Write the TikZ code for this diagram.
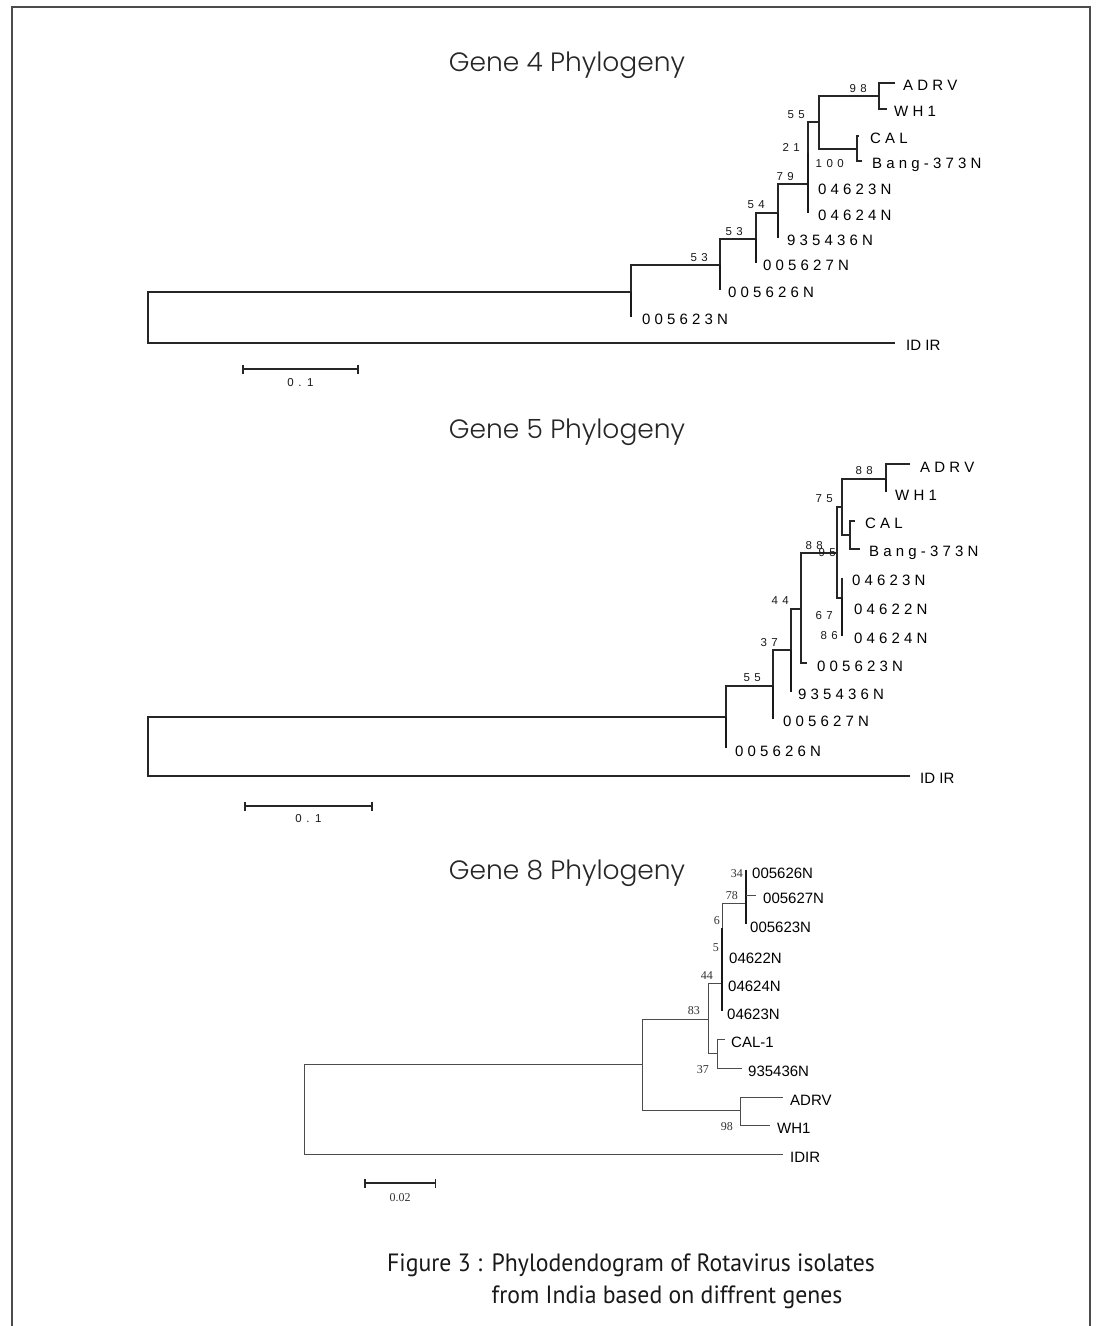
\documentclass[tikz,border=0pt]{standalone}
\usepackage{fontspec}
\setmainfont{Liberation Sans}
\newfontfamily\titlefont{Poppins}[UprightFont={* Light}]
\newfontfamily\capfont{PT Sans}
\newfontfamily\numfont{Liberation Serif}
\usetikzlibrary{arrows.meta,
                positioning}
\tikzset{branch/.style = {draw=black!85, line width=1.5pt}}
\tikzset{stub/.style = {draw=black!90, line width=2.6pt}}
\tikzset{thinbranch/.style = {draw=black!70, line width=0.9pt}}
\tikzset{thinstub/.style = {draw=black!90, line width=2.2pt}}
\tikzset{leaf/.style =
   {font=\fontsize{15}{15}\selectfont,
    anchor=base west,
    inner sep=0pt,
    xshift=9pt,
    yshift=-7.5pt}}
\tikzset{leafc/.style = {leaf, xshift=-3pt, yshift=-1pt}}
\tikzset{boot/.style = {font={\fontsize{11.5}{11.5}\selectfont\spaceskip=4.5pt\relax}, inner sep=0pt, text=black!90}}
\tikzset{bootc/.style = {font=\numfont\fontsize{12}{12}\selectfont, inner sep=0pt, text=black!80}}
\tikzset{scalebar/.style = {draw=black!85, line width=1.8pt, {Bar[width=9pt]}-{Bar[width=9pt]}}}
\tikzset{heading/.style = {font=\titlefont\fontsize{26.5}{26.5}\selectfont, text=black!85, anchor=base}}

\begin{document}
\begin{tikzpicture}[x=1pt, y=-1pt]

    \useasboundingbox (0,0) rectangle (1097,1326);
    \fill[white] (0,0) rectangle (1097,1326);
    \draw[draw=black!70, line width=2pt] (12,1326) -- (12,7) -- (1090,7) -- (1090,1326);

    % Gene 4
    \node [heading] (title4) at (567,71) {Gene 4 Phylogeny};

    \coordinate (a-root) at (148,317);
    \coordinate (a1) at (631,292);
    \coordinate (a2) at (720,265);
    \coordinate (a3) at (756,239);
    \coordinate (a4) at (778,213);
    \coordinate (a5) at (808,184);
    \coordinate (a6) at (808,153);
    \coordinate (a7) at (819,122);
    \coordinate (a8) at (879,96);
    \coordinate (a9) at (857,149);
    \coordinate (a-tADRV) at (895,83);
    \coordinate (a-tWH1) at (887,109);
    \coordinate (a-tCAL) at (859,136);
    \coordinate (a-tBang) at (862,161);
    \coordinate (a-t04623) at (808,186.5);
    \coordinate (a-t04624) at (808,213);
    \coordinate (a-t935436) at (778,238);
    \coordinate (a-t005627) at (756,263);
    \coordinate (a-t005626) at (720,290);
    \coordinate (a-t005623) at (631,317);
    \coordinate (a-tIDIR) at (895,343);

    \draw [branch] (a-root) |- (a1);
    \draw [branch] (a-root) |- (a-tIDIR);
    \draw [branch] (a1) |- (a2);
    \draw [stub] (a1) -- (a-t005623);
    \draw [branch] (a2) |- (a3);
    \draw [stub] (a2) -- (a-t005626);
    \draw [branch] (a3) |- (a4);
    \draw [stub] (a3) -- (a-t005627);
    \draw [branch] (a4) |- (a5);
    \draw [stub] (a4) -- (a-t935436);
    \draw [stub] (a6) -- (a-t04624);
    \draw [branch] (a6) |- (a7);
    \draw [branch] (a7) |- (a8);
    \draw [branch] (a7) |- (a9);
    \draw [branch] (a8) |- (a-tADRV);
    \draw [branch] (a8) |- (a-tWH1);
    \draw [branch] (a9) |- (a-tCAL);
    \draw [branch] (a9) |- (a-tBang);

    \node [leaf, xshift=-1pt] (a-adrv) at (a-tADRV) {A D R V};
    \node [leaf, xshift=-2pt] (a-wh1) at (a-tWH1) {W H 1};
    \node [leaf, xshift=2pt] (a-cal) at (a-tCAL) {C A L};
    \node [leaf, xshift=1pt] (a-bang) at (a-tBang) {B a n g - 3 7 3 N};
    \node [leaf, xshift=1pt] (a-04623) at (a-t04623) {0 4 6 2 3 N};
    \node [leaf, xshift=1pt] (a-04624) at (a-t04624) {0 4 6 2 4 N};
    \node [leaf] (a-935436) at (a-t935436) {9 3 5 4 3 6 N};
    \node [leaf, xshift=-2pt] (a-005627) at (a-t005627) {0 0 5 6 2 7 N};
    \node [leaf, xshift=-1pt] (a-005626) at (a-t005626) {0 0 5 6 2 6 N};
    \node [leaf, xshift=2pt] (a-005623) at (a-t005623) {0 0 5 6 2 3 N};
    \node [leaf, xshift=2pt] (a-idir) at (a-tIDIR) {ID IR};

    \node [boot, above left=3pt and 12pt of a2] (a-b2) {5 3};
    \node [boot, above left=3pt and 13pt of a3] (a-b3) {5 3};
    \node [boot, above left=4pt and 13pt of a4] (a-b4) {5 4};
    \node [boot, above left=3pt and 14pt of a5] (a-b5) {7 9};
    \node [boot, above left=1pt and 8pt of a6] (a-b6) {2 1};
    \node [boot, above left=3pt and 14pt of a7] (a-b7) {5 5};
    \node [boot, above left=3pt and 12pt of a8] (a-b8) {9 8};
    \node [boot, below left=10pt and 13pt of a9] (a-b9) {1 0 0};

    \coordinate (a-s1) at (242,369);
    \coordinate (a-s2) at (359,369);
    \draw [scalebar] (a-s1) -- (a-s2)
     node [boot, midway, below=9pt] {0 . 1};

    % Gene 5
    \node [heading] (title5) at (567,438) {Gene 5 Phylogeny};

    \coordinate (b-root) at (148,747);
    \coordinate (b1) at (726,717);
    \coordinate (b2) at (773,686);
    \coordinate (b3) at (791,650);
    \coordinate (b4) at (801,609);
    \coordinate (b5) at (837,553);
    \coordinate (b6) at (842,507);
    \coordinate (b7) at (842,598);
    \coordinate (b8) at (886,479);
    \coordinate (b9) at (850,535);
    \coordinate (b-tADRV) at (910,464);
    \coordinate (b-tWH1) at (886,492);
    \coordinate (b-tCAL) at (855,521);
    \coordinate (b-tBang) at (860,549);
    \coordinate (b-t04623) at (842,577.5);
    \coordinate (b-t04622) at (842,607);
    \coordinate (b-t04624) at (842,635.5);
    \coordinate (b-t005623) at (807,663);
    \coordinate (b-t935436) at (791,692);
    \coordinate (b-t005627) at (773,719);
    \coordinate (b-t005626) at (726,748);
    \coordinate (b-tIDIR) at (910,776);

    \draw [branch] (b-root) |- (b1);
    \draw [branch] (b-root) |- (b-tIDIR);
    \draw [branch] (b1) |- (b2);
    \draw [stub] (b1) -- (b-t005626);
    \draw [branch] (b2) |- (b3);
    \draw [stub] (b2) -- (b-t005627);
    \draw [branch] (b3) |- (b4);
    \draw [stub] (b3) -- (b-t935436);
    \draw [branch] (b4) |- (b5);
    \draw [branch] (b4) |- (b-t005623);
    \draw [branch] (b5) |- (b6);
    \draw [branch] (b5) |- (b7);
    \draw [branch] (b6) |- (b8);
    \draw [branch] (b6) |- (b9);
    \draw [branch] (b8) |- (b-tADRV);
    \draw [stub] (b8) -- (b-tWH1);
    \draw [branch] (b9) |- (b-tCAL);
    \draw [branch] (b9) |- (b-tBang);
    \draw [branch] (b7) -- (b-t04623);
    \draw [stub] (b7) -- (b-t04624);

    \node [leaf, xshift=1pt, yshift=-1pt] (b-adrv) at (b-tADRV) {A D R V};
    \node [leaf, yshift=-1pt] (b-wh1) at (b-tWH1) {W H 1};
    \node [leaf, xshift=1pt] (b-cal) at (b-tCAL) {C A L};
    \node [leaf] (b-bang) at (b-tBang) {B a n g - 3 7 3 N};
    \node [leaf, xshift=1pt] (b-04623) at (b-t04623) {0 4 6 2 3 N};
    \node [leaf, xshift=3pt] (b-04622) at (b-t04622) {0 4 6 2 2 N};
    \node [leaf, xshift=3pt] (b-04624) at (b-t04624) {0 4 6 2 4 N};
    \node [leaf, xshift=1pt, yshift=-1pt] (b-005623) at (b-t005623) {0 0 5 6 2 3 N};
    \node [leaf, xshift=-2pt] (b-935436) at (b-t935436) {9 3 5 4 3 6 N};
    \node [leaf, xshift=1pt] (b-005627) at (b-t005627) {0 0 5 6 2 7 N};
    \node [leaf, yshift=-1pt] (b-005626) at (b-t005626) {0 0 5 6 2 6 N};
    \node [leaf, xshift=1pt] (b-idir) at (b-tIDIR) {ID IR};

    \node [boot, above left=4pt and 12pt of b2] (b-b2) {5 5};
    \node [boot, above left=3pt and 13pt of b3] (b-b3) {3 7};
    \node [boot, above left=4pt and 12pt of b4] (b-b4) {4 4};
    \node [boot, above left=3pt and 14pt of b5] (b-b5) {8 8};
    \node [boot, left=1pt of b5] (b-b5b) {9 5};
    \node [boot, above left=4pt and 9pt of b6] (b-b6) {7 5};
    \node [boot, above left=4pt and 13pt of b8] (b-b8) {8 8};
    \node [boot, below left=4pt and 9pt of b-t04622] (b-b7) {6 7};
    \node [boot, left=4pt of b-t04624] (b-b7b) {8 6};

    \coordinate (b-s1) at (244,806);
    \coordinate (b-s2) at (373,806);
    \draw [scalebar] (b-s1) -- (b-s2)
     node [boot, midway, below=8pt] {0 . 1};

    % Gene 8
    \node [heading] (title8) at (567,879) {Gene 8 Phylogeny};

    \coordinate (c-root) at (304,1108);
    \coordinate (c1) at (642,1064);
    \coordinate (c2) at (708,1019);
    \coordinate (c3) at (722,983);
    \coordinate (c4) at (722,955);
    \coordinate (c5) at (722,928);
    \coordinate (c7) at (746,903);
    \coordinate (c-n34) at (746,895);
    \coordinate (c8) at (717,1053);
    \coordinate (c9) at (740,1110);
    \coordinate (c-t005626) at (746,869.5);
    \coordinate (c-t005627) at (756,895);
    \coordinate (c-t005623) at (746,924);
    \coordinate (c-t04622) at (722,954.5);
    \coordinate (c-t04624) at (722,982.5);
    \coordinate (c-t04623) at (722,1010.5);
    \coordinate (c-tCAL) at (725,1039);
    \coordinate (c-t935436) at (742,1068);
    \coordinate (c-tADRV) at (783,1097);
    \coordinate (c-tWH1) at (770,1125);
    \coordinate (c-tIDIR) at (783,1154);

    \draw [thinbranch] (c-root) |- (c1);
    \draw [thinbranch] (c-root) |- (c-tIDIR);
    \draw [thinbranch] (c1) |- (c2);
    \draw [thinbranch] (c1) |- (c9);
    \draw [thinbranch] (c2) |- (c3);
    \draw [thinbranch] (c2) |- (c8);
    \draw [thinbranch] (c3) |- (c7);
    \draw [thinstub] (c5) -- (c-t04623);
    \draw [thinstub] (c-t005626) -- (c-t005623);
    \draw [thinbranch] (c-n34) -- (c-t005627);
    \draw [thinbranch] (c8) |- (c-tCAL);
    \draw [thinbranch] (c8) |- (c-t935436);
    \draw [thinbranch] (c9) |- (c-tADRV);
    \draw [thinbranch] (c9) |- (c-tWH1);

    \node [leafc] (c-005626) at (c-t005626) {005626N};
    \node [leafc, xshift=1pt] (c-005627) at (c-t005627) {005627N};
    \node [leafc, xshift=-2pt] (c-005623) at (c-t005623) {005623N};
    \node [leafc, xshift=1pt] (c-04622) at (c-t04622) {04622N};
    \node [leafc] (c-04624) at (c-t04624) {04624N};
    \node [leafc, xshift=-1pt] (c-04623) at (c-t04623) {04623N};
    \node [leafc] (c-cal) at (c-tCAL) {CAL-1};
    \node [leafc] (c-935436) at (c-t935436) {935436N};
    \node [leafc, xshift=1pt] (c-adrv) at (c-tADRV) {ADRV};
    \node [leafc, xshift=1pt] (c-wh1) at (c-tWH1) {WH1};
    \node [leafc, xshift=1pt] (c-idir) at (c-tIDIR) {IDIR};

    \node [bootc, below left=0pt and 3pt of c-t005626] (c-b34) {34};
    \node [bootc, above left=3pt and 8pt of c7] (c-b7) {78};
    \node [bootc, above left=3pt and 2pt of c5] (c-b5) {6};
    \node [bootc, above left=3pt and 3pt of c4] (c-b4) {5};
    \node [bootc, above left=3pt and 9pt of c3] (c-b3) {44};
    \node [bootc, above left=4pt and 8pt of c2] (c-b2) {83};
    \node [bootc, below left=12pt and 8pt of c8] (c-b8) {37};
    \node [bootc, below left=12pt and 7pt of c9] (c-b9) {98};

    \coordinate (c-s1) at (364,1183);
    \coordinate (c-s2) at (436,1183);
    \draw [scalebar, line width=1.5pt] (c-s1) -- (c-s2)
     node [bootc, midway, below=10pt] {0.02};

    % caption
    \node [anchor=base west, inner sep=0pt, text=black!90,
           font=\capfont\fontsize{25}{32}\selectfont] (caption) at (387,1271)
    {\scalebox{0.95}[1]{\begin{tabular}[t]{@{}p{110pt}@{}l@{}}
     Figure 3 : & Phylodendogram of Rotavirus isolates\\
                & from India based on diffrent genes
     \end{tabular}}};

\end{tikzpicture}
\end{document}
